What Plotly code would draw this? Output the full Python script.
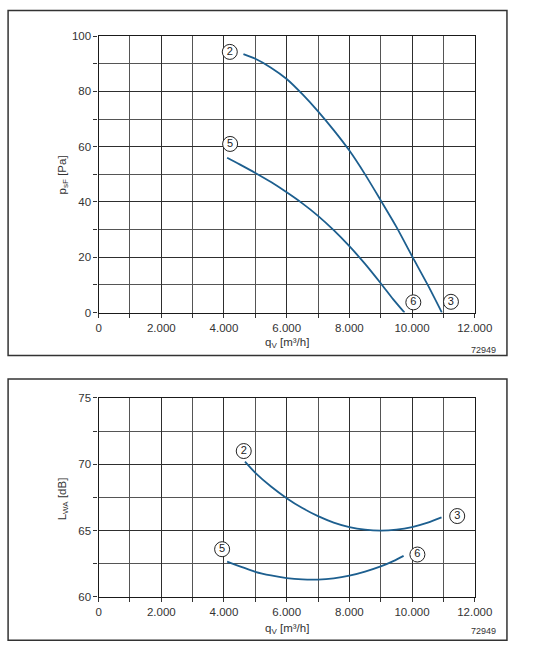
import plotly.graph_objects as go

# ---------------- data ----------------
# Top chart: static pressure p_sF [Pa] vs air flow q_V [m3/h]
p2_q = [4620, 5000, 5500, 6000, 6500, 7000, 7500, 8000, 8500, 9000, 9500, 10000, 10500, 10950]
p2_p = [93.5, 91.8, 88.6, 84.5, 79.0, 72.8, 66.0, 58.6, 50.0, 40.6, 31.0, 20.4, 10.0, 0.0]
p5_q = [4100, 4500, 5000, 5500, 6000, 6500, 7000, 7500, 8000, 8500, 9000, 9400, 9760]
p5_p = [56.0, 53.6, 50.5, 47.2, 43.5, 39.5, 35.0, 29.8, 24.0, 17.6, 10.6, 4.8, 0.0]

# Bottom chart: sound power L_WA [dB] vs q_V
l2_q = [4670, 5000, 5500, 6000, 6500, 7000, 7500, 8000, 8500, 9000, 9500, 10000, 10500, 10940]
l2_l = [70.2, 69.36, 68.33, 67.45, 66.7, 66.09, 65.61, 65.27, 65.07, 65.0, 65.07, 65.27, 65.6, 66.0]
l5_q = [4100, 5000, 5500, 6000, 6500, 7000, 7500, 8000, 8500, 9000, 9400, 9730]
l5_l = [62.66, 61.9, 61.62, 61.42, 61.32, 61.31, 61.4, 61.6, 61.91, 62.3, 62.7, 63.1]

# circled curve labels
top_lab_txt = ["2", "5", "6", "3"]
top_lab_q = [4185, 4195, 10040, 11240]
top_lab_v = [94.3, 61.0, 3.7, 3.9]
bot_lab_txt = ["2", "3", "5", "6"]
bot_lab_q = [4630, 11440, 3940, 10170]
bot_lab_v = [71.0, 66.1, 63.6, 63.2]

x_tickvals = [0, 2000, 4000, 6000, 8000, 10000, 12000]
x_ticktext = ["0", "2.000", "4.000", "6.000", "8.000", "10.000", "12.000"]
top_y_ticks = [0, 20, 40, 60, 80, 100]
bot_y_ticks = [60, 65, 70, 75]
drawing_no = "72949"

# ---------------- style ----------------
W, H = 536, 655
CURVE = "#1d5f8f"
TXT = "#333333"
FONT = "Liberation Sans, Arial, sans-serif"

def px_x(p):
    return p / W

def px_y(p):
    return 1 - p / H

fig = go.Figure()

for (xs, ys, xa, ya) in [(p2_q, p2_p, "x", "y"), (p5_q, p5_p, "x", "y"),
                         (l2_q, l2_l, "x2", "y2"), (l5_q, l5_l, "x2", "y2")]:
    fig.add_trace(go.Scatter(x=xs, y=ys, mode="lines",
                             line=dict(color=CURVE, width=1.8, shape="spline", smoothing=0.8),
                             xaxis=xa, yaxis=ya, showlegend=False))

lab_marker = dict(symbol="circle", size=15, color="white", line=dict(color="#222222", width=1))
fig.add_trace(go.Scatter(x=top_lab_q, y=top_lab_v, mode="markers+text", text=top_lab_txt,
                         textposition="middle center", textfont=dict(size=11, color="#222222", family=FONT),
                         marker=lab_marker, cliponaxis=False, xaxis="x", yaxis="y", showlegend=False))
fig.add_trace(go.Scatter(x=bot_lab_q, y=bot_lab_v, mode="markers+text", text=bot_lab_txt,
                         textposition="middle center", textfont=dict(size=11, color="#222222", family=FONT),
                         marker=lab_marker, cliponaxis=False, xaxis="x2", yaxis="y2", showlegend=False))

xdom = [px_x(99.5), px_x(491)]

def xaxis_cfg(anchor):
    return dict(domain=xdom, range=[0, 12000], anchor=anchor,
                tickvals=x_tickvals, ticktext=x_ticktext,
                showgrid=True, gridcolor="#2e2e2e", gridwidth=1.1,
                showline=True, linecolor="#1a1a1a", linewidth=1.3, mirror=True,
                ticks="outside", ticklen=4, tickcolor="#333333",
                minor=dict(dtick=1000, tick0=0, showgrid=True, gridcolor="#555555", gridwidth=1.1,
                           ticks="outside", ticklen=4, tickcolor="#333333"),
                tickfont=dict(size=11.5, color=TXT, family=FONT), zeroline=False, fixedrange=True)

def yaxis_cfg(anchor, dom, rng, ticks, minor_dt):
    return dict(domain=dom, range=rng, anchor=anchor,
                tickvals=ticks,
                showgrid=True, gridcolor="#2e2e2e", gridwidth=1.1,
                showline=True, linecolor="#1a1a1a", linewidth=1.3, mirror=True,
                ticks="outside", ticklen=4, tickcolor="#333333",
                minor=dict(dtick=minor_dt, tick0=rng[0], showgrid=True, gridcolor="#555555", gridwidth=1.1,
                           ticks="outside", ticklen=4, tickcolor="#333333"),
                tickfont=dict(size=11.5, color=TXT, family=FONT), zeroline=False, fixedrange=True)

fig.update_layout(
    width=W, height=H, margin=dict(l=0, r=0, t=0, b=0, pad=0),
    paper_bgcolor="white", plot_bgcolor="white",
    font=dict(family=FONT, color=TXT),
    xaxis=xaxis_cfg("y"),
    yaxis=yaxis_cfg("x", [px_y(312.3), px_y(30.7)], [0, 100], top_y_ticks, 10),
    xaxis2=xaxis_cfg("y2"),
    yaxis2=yaxis_cfg("x2", [px_y(602), px_y(399.3)], [60, 75], bot_y_ticks, 2.5),
)

# frames around both charts
for (y0, y1) in [(4.7, 356), (380, 646)]:
    fig.add_shape(type="rect", xref="paper", yref="paper",
                  x0=px_x(5.3), x1=px_x(524.5), y0=px_y(y1), y1=px_y(y0),
                  line=dict(color="#333333", width=1.5), fillcolor="rgba(0,0,0,0)")

# axis titles
for (y_px, txt) in [(343, "q<sub>V</sub> [m³/h]"), (635, "q<sub>V</sub> [m³/h]")]:
    fig.add_annotation(xref="paper", yref="paper", x=px_x(296), y=px_y(y_px), text=txt, showarrow=False,
                       font=dict(size=11.5, color=TXT, family=FONT), xanchor="center", yanchor="middle")
for (y_px, txt) in [(172, "p<sub>sF</sub> [Pa]"), (502, "L<sub>WA</sub> [dB]")]:
    fig.add_annotation(xref="paper", yref="paper", x=px_x(62), y=px_y(y_px), text=txt, showarrow=False,
                       textangle=-90, font=dict(size=11.5, color=TXT, family=FONT),
                       xanchor="center", yanchor="middle")
for y_px in [350, 637]:
    fig.add_annotation(xref="paper", yref="paper", x=px_x(515), y=px_y(y_px), text=drawing_no, showarrow=False,
                       font=dict(size=9, color=TXT, family=FONT), xanchor="right", yanchor="middle")

fig.write_html("out.html")
